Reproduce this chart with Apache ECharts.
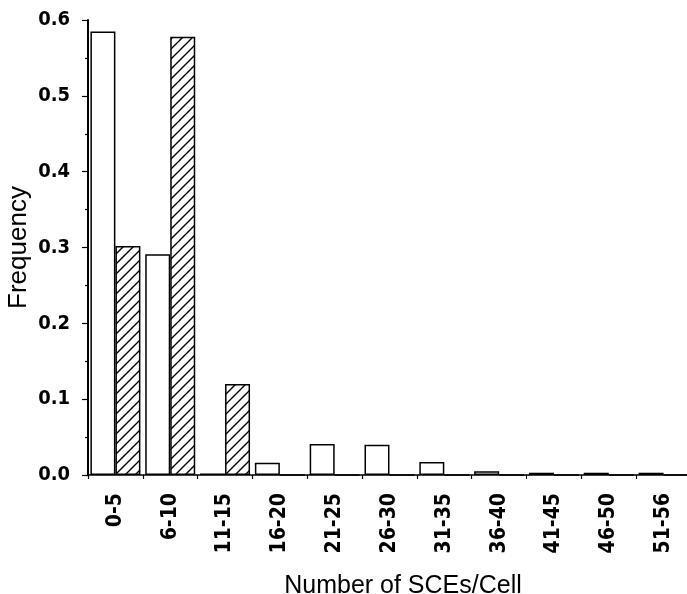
<!DOCTYPE html>
<html>
<head>
<meta charset="utf-8">
<script src="https://cdn.jsdelivr.net/npm/echarts@6/dist/echarts.min.js"></script>
<style>
  html, body { margin: 0; padding: 0; background: #fff; }
  #chart { width: 687px; height: 594px; }
</style>
</head>
<body>
<div id="chart"></div>
<script>
const categories = ['0-5', '6-10', '11-15', '16-20', '21-25', '26-30', '31-35', '36-40', '41-45', '46-50', '51-56'];
const openBars = [0.585, 0.291, 0.002, 0.016, 0.041, 0.040, 0.017, 0.005, 0.003, 0.003, 0.003];
const hatchedBars = [0.302, 0.578, 0.120, 0, 0, 0, 0, 0, 0, 0, 0];
const yTicks = [0.0, 0.1, 0.2, 0.3, 0.4, 0.5, 0.6];

function hatchPattern() {
  const s = 10;
  const c = document.createElement('canvas');
  c.width = s; c.height = s;
  const g = c.getContext('2d');
  g.fillStyle = '#fff';
  g.fillRect(0, 0, s, s);
  g.strokeStyle = '#000';
  g.lineWidth = 1.4;
  g.beginPath();
  g.moveTo(-1, s + 1); g.lineTo(s + 1, -1);
  g.moveTo(-1, 1); g.lineTo(1, -1);
  g.moveTo(s - 1, s + 1); g.lineTo(s + 1, s - 1);
  g.stroke();
  return c;
}

const narrow = "'Liberation Sans Narrow', 'DejaVu Sans Condensed', 'Liberation Sans', Arial, sans-serif";
const chart = echarts.init(document.getElementById('chart'));
chart.setOption({
  animation: false,
  backgroundColor: '#fff',
  grid: { left: 88, top: 20, width: 603, height: 455, containLabel: false, outerBoundsMode: 'none' },
  xAxis: {
    type: 'category',
    data: categories,
    name: 'Number of SCEs/Cell',
    nameLocation: 'middle',
    nameGap: 99,
    nameMoveOverlap: false,
    nameTextStyle: { fontFamily: "'Liberation Sans', Arial, sans-serif", fontSize: 25, color: '#000', padding: [0, 0, 0, 27] },
    axisLine: { lineStyle: { color: '#000', width: 1.5 } },
    axisTick: { show: true, length: 4, lineStyle: { color: '#000', width: 1.2 } },
    axisLabel: {
      rotate: 90, margin: 18, color: '#000',
      fontFamily: narrow, fontWeight: 'bold', fontSize: 21, interval: 0
    },
    splitLine: { show: false }
  },
  yAxis: {
    type: 'value',
    min: 0, max: 0.6, interval: 0.1,
    name: 'Frequency',
    nameLocation: 'middle',
    nameGap: 56,
    nameMoveOverlap: false,
    nameTextStyle: { fontFamily: "'Liberation Sans', Arial, sans-serif", fontSize: 26, color: '#000' },
    axisLine: { show: true, lineStyle: { color: '#000', width: 2 } },
    axisTick: { show: true, length: 6, lineStyle: { color: '#000', width: 1.2 } },
    minorTick: { show: true, splitNumber: 2, length: 3, lineStyle: { color: '#000', width: 1.2 } },
    axisLabel: {
      margin: 18, color: '#000',
      fontFamily: narrow, fontWeight: 'bold', fontSize: 20,
      formatter: v => {
        const t = yTicks.find(x => Math.abs(x - v) < 1e-9);
        return (t !== undefined ? t : v).toFixed(1);
      }
    },
    splitLine: { show: false }
  },
  series: [
    {
      type: 'bar',
      data: openBars,
      barWidth: 25,
      barGap: '0%',
      itemStyle: { color: '#fff', borderColor: '#000', borderWidth: 1.5 }
    },
    {
      type: 'bar',
      data: hatchedBars,
      barWidth: 25,
      barGap: '0%',
      itemStyle: { color: { image: hatchPattern(), repeat: 'repeat' }, borderColor: '#000', borderWidth: 1.5 }
    }
  ]
});
</script>
</body>
</html>
